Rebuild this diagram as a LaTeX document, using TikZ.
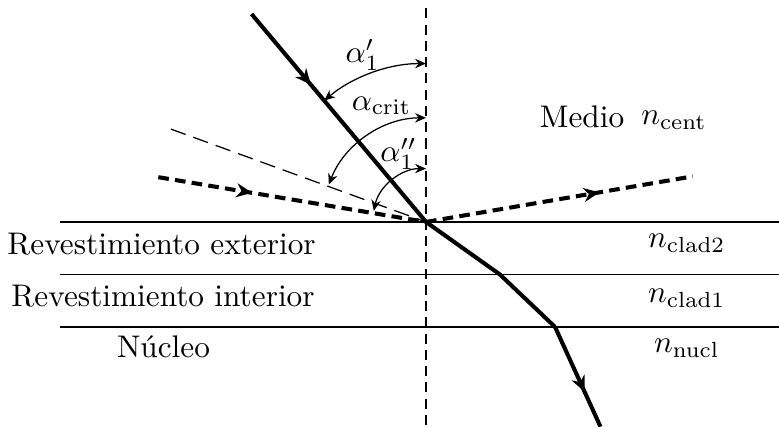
\documentclass[tikz,border=0pt]{standalone}
\usepackage{amsmath}
\usepackage{tikz}
\usetikzlibrary{arrows.meta,decorations.markings,positioning}

\tikzset{
  ray/.style={line width=1.3pt},
  ghostray/.style={line width=1.3pt,dash pattern=on 3.4pt off 2pt},
  midarrow/.style={postaction={decorate},decoration={markings,
      mark=at position #1 with {\arrow{Stealth[length=5pt,width=4.5pt]}}}},
  angarc/.style={line width=0.4pt,{Stealth[length=3.5pt,width=3pt]}-{Stealth[length=3.5pt,width=3pt]}},
  boundary/.style={line width=0.5pt},
  lbl/.style={anchor=base,inner sep=0pt},
}

\begin{document}
\begin{tikzpicture}
  \useasboundingbox (-4.787,-2.303) rectangle (3.966,2.494);
  % points of the rays
  \coordinate (O) at (0,0);
  \coordinate (inA) at (130:3.05);
  \coordinate (P1) at (0.83,-0.59);
  \coordinate (P2) at (1.45,-1.18);
  \coordinate (P3) at (1.96,-2.30);
  \coordinate (gL) at (170.5:3.05);
  \coordinate (gR) at (9.7:3.04);
  \coordinate (crit) at (160:3.05);
  \coordinate (nTop) at (0,2.40);
  \coordinate (nBot) at (0,-2.30);
  % layer boundaries
  \foreach \y/\n in {0/b0,-0.59/b1,-1.18/b2} {
    \coordinate (\n L) at (-4.11,\y);
    \coordinate (\n R) at (3.966,\y);
    \draw[boundary] (\n L) -- (\n R);
  }
  % normal
  \draw[dash pattern=on 3.2pt off 2pt,line width=0.4pt] (nTop) -- (nBot);
  % critical direction
  \draw[dash pattern=on 5pt off 2.6pt,line width=0.4pt] (crit) -- (O);
  % ray refracted through the layers
  \draw[ray,midarrow=0.34] (inA) -- (O);
  \draw[ray] (O) -- (P1) -- (P2);
  \draw[ray,midarrow=0.65] (P2) -- (P3);
  % totally reflected ray
  \draw[ghostray,midarrow=0.35] (gL) -- (O);
  \draw[ghostray,midarrow=0.65] (O) -- (gR);
  % angles
  \draw[angarc] (90:1.78) arc[start angle=90,end angle=130,radius=1.78];
  \draw[angarc] (90:1.17) arc[start angle=90,end angle=159,radius=1.17];
  \draw[angarc] (90:0.60) arc[start angle=90,end angle=168,radius=0.60];
  \node[lbl] (a1) at (-0.713,1.787) {$\alpha_1'$};
  \node[lbl] (acrit) at (-0.50,1.258) {$\alpha_{\mathrm{crit}}$};
  \node[lbl] (a2) at (-0.309,0.674) {$\alpha_1''$};
  % media
  \node[lbl] (medio) at (1.753,1.056) {Medio};
  \node[lbl] (ncent) at (2.787,1.09) {$n_{\mathrm{cent}}$};
  \node[lbl] (ext) at (-2.972,-0.371) {Revestimiento exterior};
  \node[lbl] (nclad2) at (2.93,-0.292) {$n_{\mathrm{clad2}}$};
  \node[lbl] (int) at (-2.955,-0.955) {Revestimiento interior};
  \node[lbl] (nclad1) at (2.93,-0.910) {$n_{\mathrm{clad1}}$};
  \node[lbl] (nucleo) at (-2.95,-1.528) {Núcleo};
  \node[lbl] (nnucl) at (2.93,-1.472) {$n_{\mathrm{nucl}}$};
\end{tikzpicture}
\end{document}
